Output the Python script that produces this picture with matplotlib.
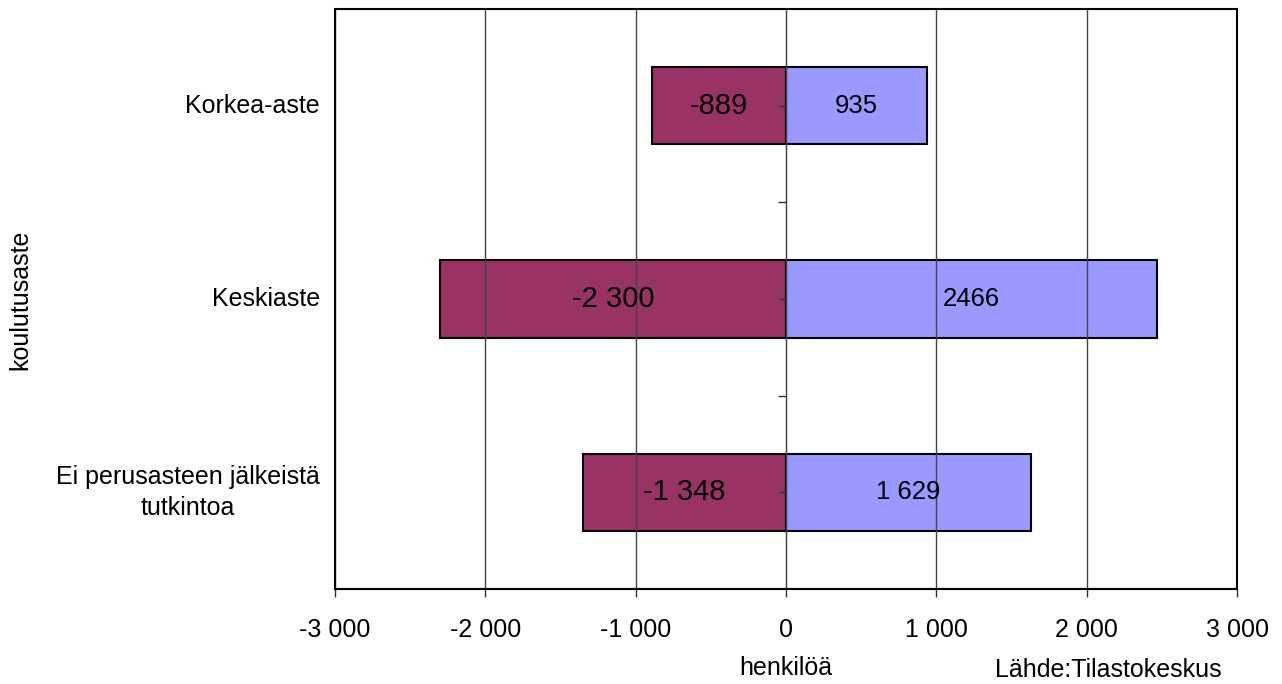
import matplotlib.pyplot as plt
from matplotlib.patches import Rectangle
from matplotlib.ticker import FuncFormatter

plt.rcParams['font.family'] = ['Liberation Sans', 'DejaVu Sans']

categories = ['Korkea-aste', 'Keskiaste', 'Ei perusasteen jälkeistä\ntutkintoa']
negative = [-889, -2300, -1348]
positive = [935, 2466, 1629]
neg_labels = ['-889', '-2 300', '-1 348']
pos_labels = ['935', '2466', '1 629']
xticks = [-3000, -2000, -1000, 0, 1000, 2000, 3000]

fig = plt.figure(figsize=(12.82, 6.84), dpi=100)
ax = fig.add_axes([335 / 1282, 95 / 684, 902 / 1282, 580 / 684])

ypos = list(range(len(categories)))
bar_h = 0.40
ax.barh(ypos, negative, height=bar_h, color='#993366', edgecolor='black', linewidth=1.5, zorder=2)
ax.barh(ypos, positive, height=bar_h, color='#9999FF', edgecolor='black', linewidth=1.5, zorder=2)

for y, v, t in zip(ypos, negative, neg_labels):
    ax.text(v / 2, y, t, ha='center', va='center', fontsize=21, zorder=4)
for y, v, t in zip(ypos, positive, pos_labels):
    ax.text(v / 2, y, t, ha='center', va='center', fontsize=18.5, zorder=4)

ax.set_xlim(-3000, 3000)
ax.set_ylim(2.5, -0.5)
ax.set_xticks(xticks)
ax.xaxis.set_major_formatter(FuncFormatter(lambda v, p: f'{int(v):,}'.replace(',', ' ')))
ax.tick_params(axis='x', labelsize=18, length=6, width=1, pad=15, color='#333333')
ax.grid(axis='x', color='#444444', linewidth=1.0, zorder=0)
ax.set_axisbelow(False)

# y axis sits at zero, labels drawn separately
ax.spines['left'].set_position(('data', 0))
ax.spines['left'].set_color('#777777')
ax.spines['right'].set_visible(False)
ax.spines['top'].set_visible(False)
ax.spines['bottom'].set_linewidth(1.5)
ax.spines['bottom'].set_color('#333333')
ax.set_yticks([0.5, 1.5])
ax.set_yticklabels([])
ax.set_yticks(ypos, minor=True)
ax.tick_params(axis='y', which='major', length=6, width=1, color='#333333')
ax.tick_params(axis='y', which='minor', length=5, width=1, color='#333333')
ax.add_patch(Rectangle((0, 0), 1, 1, transform=ax.transAxes, fill=False,
                       edgecolor='black', linewidth=1.5, clip_on=False, zorder=5))

trans = ax.get_yaxis_transform()
for y, c in zip(ypos, categories):
    ax.text(-0.017, y, c, transform=trans, ha='right', va='center',
            multialignment='center', fontsize=18, linespacing=1.4)

fig.text(20 / 1282, 1 - 300 / 684, 'koulutusaste', rotation=90, ha='center', va='center', fontsize=18)
fig.text(786 / 1282, 1 - 668 / 684, 'henkilöä', ha='center', va='center', fontsize=18)
fig.text(1222 / 1282, 1 - 670 / 684, 'Lähde:Tilastokeskus', ha='right', va='center', fontsize=18)

fig.savefig('out.png', dpi=100)
